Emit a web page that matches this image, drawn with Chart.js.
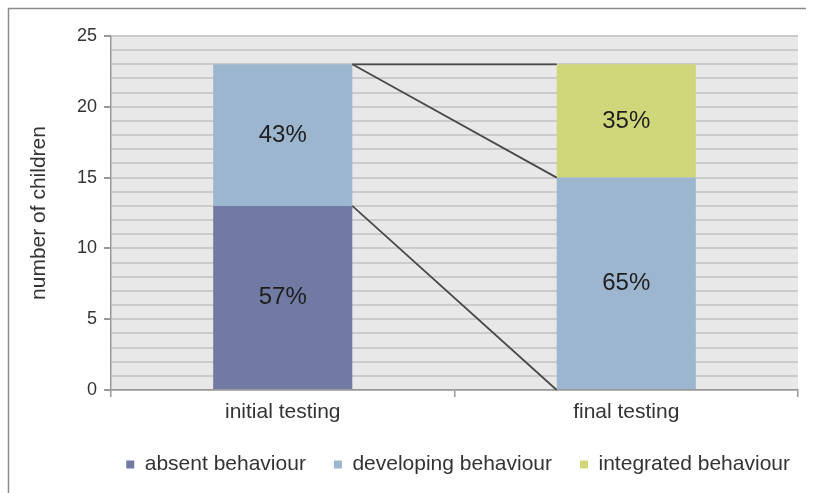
<!DOCTYPE html>
<html>
<head>
<meta charset="utf-8">
<script src="https://cdn.jsdelivr.net/npm/chart.js@4"></script>
<style>
  body { margin: 0; background: #fff; }
  #wrap { width: 814px; height: 493px; }
</style>
</head>
<body>
<div id="wrap"><canvas id="chart" width="814" height="493"></canvas></div>
<script>
var categories = ['initial testing', 'final testing'];
var absentValues = [13, 0];
var developingValues = [10, 15];
var integratedValues = [0, 8];
var yTicks = [0, 5, 10, 15, 20, 25];

var FONT = "'Liberation Sans', Arial, sans-serif";

var plotBackground = {
    id: 'plotBackground',
    beforeDraw: function(chart) {
        var ctx = chart.ctx;
        var a = chart.chartArea;
        ctx.save();
        ctx.fillStyle = '#e8e8e8';
        ctx.fillRect(a.left, a.top, a.right - a.left, a.bottom - a.top);
        // outer frame
        ctx.strokeStyle = '#8c8c8c';
        ctx.lineWidth = 1.5;
        ctx.beginPath();
        ctx.moveTo(8.5, 493);
        ctx.lineTo(8.5, 8.5);
        ctx.lineTo(806, 8.5);
        ctx.stroke();
        ctx.restore();
        // legend sits under the plot area, a bit higher than chart.js puts it
        var lg = chart.legend;
        if (lg && !lg._moved) {
            lg.left += 20; lg.right += 20;
            lg.top -= 8; lg.bottom -= 8;
            lg._moved = true;
        }
    }
};

// Excel style series lines joining the stack tops
var seriesLines = {
    id: 'seriesLines',
    afterDatasetsDraw: function(chart) {
        var ctx = chart.ctx;
        ctx.save();
        ctx.strokeStyle = '#4a4a4a';
        ctx.lineWidth = 1.8;
        chart.data.datasets.forEach(function(ds, i) {
            var meta = chart.getDatasetMeta(i);
            var b0 = meta.data[0];
            var b1 = meta.data[1];
            ctx.beginPath();
            ctx.moveTo(b0.x + b0.width / 2, b0.y);
            ctx.lineTo(b1.x - b1.width / 2, b1.y);
            ctx.stroke();
        });
        ctx.restore();
    }
};

var percentLabels = {
    id: 'percentLabels',
    afterDatasetsDraw: function(chart) {
        var ctx = chart.ctx;
        var datasets = chart.data.datasets;
        ctx.save();
        ctx.font = '24px ' + FONT;
        ctx.fillStyle = '#1e1e1e';
        ctx.textAlign = 'center';
        ctx.textBaseline = 'middle';
        categories.forEach(function(c, j) {
            var total = 0;
            datasets.forEach(function(ds) { total += ds.data[j]; });
            datasets.forEach(function(ds, i) {
                var v = ds.data[j];
                if (!v) return;
                var bar = chart.getDatasetMeta(i).data[j];
                ctx.fillText(Math.round(v / total * 100) + '%', bar.x, (bar.y + bar.base) / 2);
            });
        });
        ctx.restore();
    }
};

window.onload = function() {
    var ctx = document.getElementById('chart').getContext('2d');
    window.myChart = new Chart(ctx, {
        type: 'bar',
        data: {
            labels: categories,
            datasets: [{
                label: 'absent behaviour',
                backgroundColor: '#707aa2',
                data: absentValues
            },
            {
                label: 'developing behaviour',
                backgroundColor: '#9db6cf',
                data: developingValues
            },
            {
                label: 'integrated behaviour',
                backgroundColor: '#cfd77a',
                data: integratedValues
            }]
        },
        options: {
            responsive: false,
            animation: false,
            categoryPercentage: 1,
            barPercentage: 0.405,
            layout: {
                padding: {top: 36, right: 16, left: 0, bottom: 0}
            },
            plugins: {
                legend: {
                    position: 'bottom',
                    align: 'end',
                    labels: {
                        boxWidth: 8,
                        boxHeight: 8,
                        padding: 28,
                        color: '#333',
                        font: {family: FONT, size: 21}
                    }
                },
                tooltip: {enabled: false}
            },
            scales: {
                x: {
                    stacked: true,
                    afterFit: function(scale) { scale.height = 44; },
                    grid: {
                        offset: true,
                        drawOnChartArea: false,
                        tickLength: 7,
                        tickColor: '#999',
                        lineWidth: 1.5
                    },
                    border: {color: '#999', width: 1.5},
                    ticks: {
                        color: '#333',
                        padding: 3,
                        font: {family: FONT, size: 21}
                    }
                },
                y: {
                    stacked: true,
                    min: 0,
                    max: 25,
                    afterFit: function(scale) { scale.width = 111; },
                    afterBuildTicks: function(scale) {
                        var t = [];
                        for (var v = 0; v <= 25; v++) t.push({value: v});
                        scale.ticks = t;
                    },
                    grid: {
                        color: '#cbcbcb',
                        lineWidth: 2,
                        tickLength: 7,
                        tickColor: function(c) {
                            return yTicks.indexOf(c.tick.value) >= 0 ? '#999' : 'rgba(0,0,0,0)';
                        }
                    },
                    border: {color: '#999', width: 1.5},
                    ticks: {
                        autoSkip: false,
                        color: '#333',
                        padding: 7,
                        font: {family: FONT, size: 18},
                        callback: function(v) {
                            return yTicks.indexOf(v) >= 0 ? v : '';
                        }
                    },
                    title: {
                        display: true,
                        text: 'number of children',
                        color: '#333',
                        padding: {top: 27, bottom: 0},
                        font: {family: FONT, size: 21}
                    }
                }
            }
        },
        plugins: [plotBackground, seriesLines, percentLabels]
    });
};
</script>
</body>
</html>
